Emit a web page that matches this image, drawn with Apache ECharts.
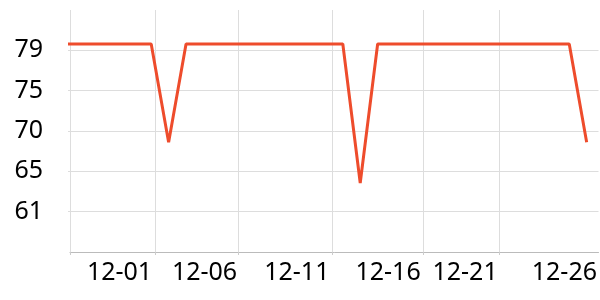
<!DOCTYPE html>
<html>
<head>
<meta charset="utf-8">
<script src="https://cdn.jsdelivr.net/npm/echarts@6/dist/echarts.min.js"></script>
<style>html,body{margin:0;padding:0;background:#fff}#chart{width:600px;height:300px}</style>
</head>
<body>
<div id="chart"></div>
<script>
// Daily dates (index = day offset used on the x axis)
const dates = ['11-28','11-29','11-30','12-01','12-02','12-03','12-04','12-05','12-06','12-07','12-08',
  '12-09','12-10','12-11','12-12','12-13','12-14','12-15','12-16','12-17','12-18','12-19','12-20',
  '12-21','12-22','12-23','12-24','12-25','12-26','12-27','12-28'];
const values = [79.7,79.7,79.7,79.7,79.7,79.7,68.75,79.7,79.7,79.7,79.7,
  79.7,79.7,79.7,79.7,79.7,79.7,64.2,79.7,79.7,79.7,79.7,79.7,
  79.7,79.7,79.7,79.7,79.7,79.7,79.7,68.75];
const xTickLabels = ['12-01','12-06','12-11','12-16','12-21','12-26'];
const yTickLabels = ['61','65','70','75','79'];
const yTickValues = [61,65.5,70,74.5,79];

const xLabelPos = [3.18, 8.06, 13.36, 18.60, 23.02, 28.72];
const xGridPos = [0.338, 5.24, 10.0, 15.37, 20.61, 24.96];

const chart = echarts.init(document.getElementById('chart'), null, {renderer:'canvas'});
const font = 'Noto Sans';
chart.setOption({
  animation:false,
  grid:{left:70, right:0, top:10, bottom:48, containLabel:false},
  xAxis:{
    type:'value', min:0.338, max:30.68,
    axisLine:{show:true, lineStyle:{color:'#bbb', width:1}},
    axisTick:{show:true, length:3, lineStyle:{color:'#ccc'}, customValues:xGridPos},
    splitLine:{show:true, lineStyle:{color:'#ddd', width:1}},
    axisLabel:{customValues:xLabelPos, margin:8, color:'#000', fontFamily:font, fontSize:25,
      formatter:(v)=>{let i=xLabelPos.indexOf(v); return i>=0?xTickLabels[i]:'';}}
  },
  yAxis:{
    type:'value', min:56.5, max:83.5,
    axisLine:{show:false},
    axisTick:{show:true, length:2, lineStyle:{color:'#ddd'}, customValues:yTickValues},
    splitLine:{show:true, lineStyle:{color:'#ddd', width:1}},
    axisLabel:{customValues:yTickValues, margin:27, color:'#000', fontFamily:font, fontSize:25,
      formatter:(v)=>{let i=yTickValues.indexOf(v); return i>=0?yTickLabels[i]:'';}}
  },
  series:[{
    type:'line', data:values.map((v,i)=>[i,v]), showSymbol:false, symbol:'none',
    lineStyle:{color:'#ee4c2c', width:3}, itemStyle:{color:'#ee4c2c'}, clip:true
  }]
});
</script>
</body>
</html>
